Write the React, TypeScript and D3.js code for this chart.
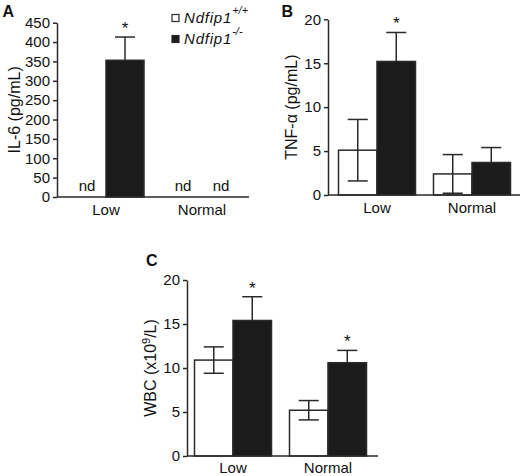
import * as d3 from 'd3'
import { useEffect, useRef } from 'react'

const categories = ['Low', 'Normal']
const genotypes = ['+/+', '-/-']

// IL-6 (pg/mL); null = not detected
const il6Wt: (number | null)[] = [null, null]
const il6WtErr = [0, 0]
const il6Ko: (number | null)[] = [353, null]
const il6KoErr = [60, 0]
const il6Star = [false, false, true, false]

// TNF-alpha (pg/mL)
const tnfWt = [5.1, 2.4]
const tnfWtErr = [3.5, 2.2]
const tnfKo = [15.2, 3.7]
const tnfKoErr = [3.3, 1.7]
const tnfStar = [false, false, true, false]

// WBC (x10^9/L)
const wbcWt = [10.9, 5.2]
const wbcWtErr = [1.5, 1.1]
const wbcKo = [15.4, 10.6]
const wbcKoErr = [2.7, 1.4]
const wbcStar = [false, false, true, true]

const FONT = '"Liberation Sans", Arial, Helvetica, sans-serif'
const INK = '#2a2a2a'
const FILLS = ['#ffffff', '#1b1b1b']

type Panel = {
  letter: string
  letterX: number
  letterY: number
  title: string
  titleSup?: string
  titleTail?: string
  titleX: number
  axisX: number
  xEnd: number
  yBottom: number
  yTop: number
  max: number
  step: number
  c0: number
  c1: number
  groupW: number
  labelY: number
  values: (number | null)[][]
  errs: number[][]
  stars: boolean[]
}

function drawPanel(svg: d3.Selection<SVGSVGElement, unknown, null, undefined>, p: Panel) {
  const g = svg.append('g')
  const y = d3.scaleLinear().domain([0, p.max]).range([p.yBottom, p.yTop])
  const x = d3.scalePoint<string>().domain(categories).range([p.c0, p.c1])
  const sub = d3.scaleBand<string>().domain(genotypes).range([-p.groupW / 2, p.groupW / 2])
  const bw = sub.bandwidth()

  const rows: { cat: string; gen: string; v: number | null; e: number; star: boolean; s: number }[] = []
  genotypes.forEach((gen, s) => {
    categories.forEach((cat, i) => {
      rows.push({ cat, gen, v: p.values[s][i], e: p.errs[s][i], star: p.stars[s * 2 + i], s })
    })
  })
  const cx = (d: { cat: string; gen: string }) => (x(d.cat) ?? 0) + (sub(d.gen) ?? 0) + bw / 2
  const shown = rows.filter(d => d.v !== null) as { cat: string; gen: string; v: number; e: number; star: boolean; s: number }[]

  g.selectAll('rect.bar').data(shown).enter().append('rect')
    .attr('x', d => cx(d) - bw / 2)
    .attr('y', d => y(d.v))
    .attr('width', bw)
    .attr('height', d => y(0) - y(d.v))
    .attr('fill', d => FILLS[d.s])
    .attr('stroke', INK).attr('stroke-width', 1.5)

  const cap = 10
  const eb = g.selectAll('g.err').data(shown.filter(d => d.e > 0)).enter().append('g')
  eb.append('line')
    .attr('x1', d => cx(d)).attr('x2', d => cx(d))
    .attr('y1', d => y(d.s === 0 ? d.v - d.e : d.v)).attr('y2', d => y(d.v + d.e))
    .attr('stroke', INK).attr('stroke-width', 1.5)
  eb.append('line')
    .attr('x1', d => cx(d) - cap).attr('x2', d => cx(d) + cap)
    .attr('y1', d => y(d.v + d.e)).attr('y2', d => y(d.v + d.e))
    .attr('stroke', INK).attr('stroke-width', 1.5)
  eb.filter(d => d.s === 0).append('line')
    .attr('x1', d => cx(d) - cap).attr('x2', d => cx(d) + cap)
    .attr('y1', d => y(d.v - d.e)).attr('y2', d => y(d.v - d.e))
    .attr('stroke', INK).attr('stroke-width', 1.5)

  g.selectAll('text.star').data(shown.filter(d => d.star)).enter().append('text')
    .attr('x', d => cx(d)).attr('y', d => y(d.v + d.e) - 3)
    .attr('text-anchor', 'middle').attr('font-size', 17).attr('fill', '#111')
    .text('*')

  g.selectAll('text.nd').data(rows.filter(d => d.v === null)).enter().append('text')
    .attr('x', d => cx(d)).attr('y', p.yBottom - 6)
    .attr('text-anchor', 'middle').attr('font-size', 15).attr('fill', '#111')
    .text('nd')

  // axes
  const ay = g.append('g').attr('transform', `translate(${p.axisX},0)`)
    .call(d3.axisLeft(y).tickValues(d3.range(0, p.max + 1e-6, p.step)).tickSize(4).tickSizeOuter(0).tickPadding(3))
  ay.select('.domain').attr('stroke', INK).attr('stroke-width', 1.5)
  ay.selectAll('.tick line').attr('stroke', INK).attr('stroke-width', 1.5)
  ay.selectAll('.tick text').attr('font-size', 15).attr('font-family', FONT).attr('fill', '#111')

  g.append('line')
    .attr('x1', p.axisX).attr('x2', p.xEnd)
    .attr('y1', p.yBottom).attr('y2', p.yBottom)
    .attr('stroke', INK).attr('stroke-width', 1.5)

  g.selectAll('text.cat').data(categories).enter().append('text')
    .attr('x', d => x(d) ?? 0).attr('y', p.labelY)
    .attr('text-anchor', 'middle').attr('font-size', 15).attr('fill', '#111')
    .text(d => d)

  const t = g.append('text')
    .attr('transform', `translate(${p.titleX},${(p.yBottom + p.yTop) / 2}) rotate(-90)`)
    .attr('text-anchor', 'middle').attr('font-size', 16).attr('fill', '#111')
  t.append('tspan').text(p.title)
  if (p.titleSup) {
    t.append('tspan').attr('dy', -6).attr('font-size', 11).text(p.titleSup)
    t.append('tspan').attr('dy', 6).text(p.titleTail ?? '')
  }

  g.append('text')
    .attr('x', p.letterX).attr('y', p.letterY)
    .attr('font-size', 16).attr('font-weight', 'bold').attr('fill', '#111')
    .text(p.letter)
}

const panels: Panel[] = [
  {
    letter: 'A', letterX: 2.5, letterY: 16.5, title: 'IL-6 (pg/mL)', titleX: 20,
    axisX: 57, xEnd: 249, yBottom: 197, yTop: 22.7, max: 450, step: 50,
    c0: 106, c1: 202, groupW: 76, labelY: 215,
    values: [il6Wt, il6Ko], errs: [il6WtErr, il6KoErr], stars: il6Star,
  },
  {
    letter: 'B', letterX: 281.5, letterY: 16.5, title: 'TNF-α (pg/mL)', titleX: 297,
    axisX: 328, xEnd: 520, yBottom: 195, yTop: 19.3, max: 20, step: 5,
    c0: 377, c1: 472, groupW: 77, labelY: 213,
    values: [tnfWt, tnfKo], errs: [tnfWtErr, tnfKoErr], stars: tnfStar,
  },
  {
    letter: 'C', letterX: 146, letterY: 266, title: 'WBC (x10', titleSup: '9', titleTail: '/L)', titleX: 156,
    axisX: 187, xEnd: 378, yBottom: 456, yTop: 280, max: 20, step: 5,
    c0: 233, c1: 328, groupW: 77, labelY: 473,
    values: [wbcWt, wbcKo], errs: [wbcWtErr, wbcKoErr], stars: wbcStar,
  },
]

export default function App() {
  const ref = useRef<SVGSVGElement | null>(null)

  useEffect(() => {
    if (!ref.current) return
    const svg = d3.select(ref.current)
    svg.selectAll('*').remove()
    panels.forEach(p => drawPanel(svg, p))

    // legend (panel A)
    const leg = svg.append('g')
    const rowY = d3.scalePoint<string>().domain(genotypes).range([18, 39])
    genotypes.forEach((gen, s) => {
      const cy = rowY(gen) ?? 0
      leg.append('rect')
        .attr('x', 172).attr('y', cy - 3.5).attr('width', 7).attr('height', 7)
        .attr('fill', FILLS[s]).attr('stroke', INK).attr('stroke-width', 1.2)
      const t = leg.append('text')
        .attr('x', 184).attr('y', cy + 5)
        .attr('font-size', 15).attr('fill', '#111')
      t.append('tspan').attr('font-style', 'italic').attr('letter-spacing', 0.8).text('Ndfip1')
      t.append('tspan').attr('dy', -9).attr('font-size', 11).attr('font-style', 'italic').text(gen)
    })
  }, [])

  return (
    <svg ref={ref} width={520} height={476}
      style={{ position: 'absolute', left: 0, top: 0, fontFamily: FONT, background: '#fff' }} />
  )
}
